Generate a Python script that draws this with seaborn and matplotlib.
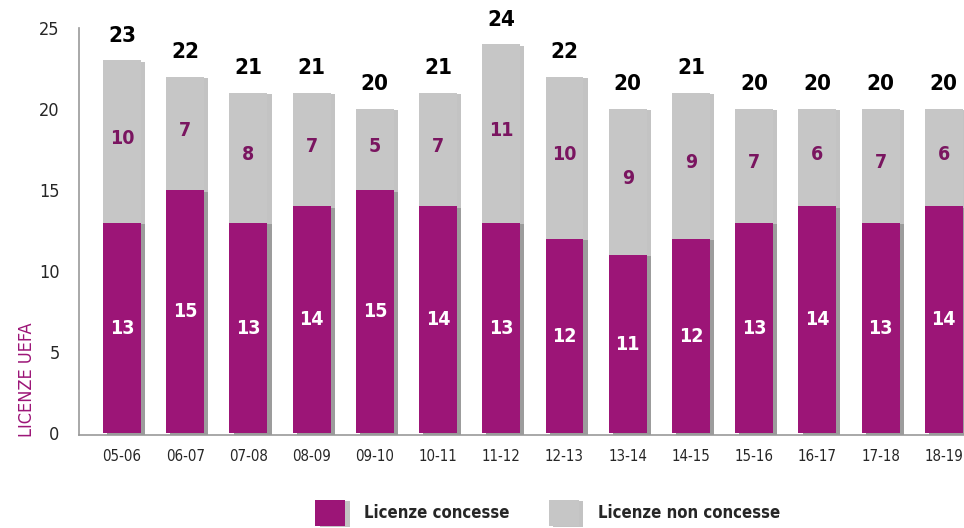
import numpy as np
import pandas as pd
import matplotlib
matplotlib.use('Agg')
import seaborn as sns
import matplotlib.pyplot as plt
import matplotlib.patheffects as pe
from matplotlib import font_manager

stagioni = ["05-06", "06-07", "07-08", "08-09", "09-10", "10-11", "11-12",
            "12-13", "13-14", "14-15", "15-16", "16-17", "17-18", "18-19"]
concesse = [13, 15, 13, 14, 15, 14, 13, 12, 11, 12, 13, 14, 13, 14]
non_concesse = [10, 7, 8, 7, 5, 7, 11, 10, 9, 9, 7, 6, 7, 6]

df = pd.DataFrame({"stagione": stagioni, "concesse": concesse,
                   "non": non_concesse})
df["totale"] = df["concesse"] + df["non"]

PURPLE = "#9C1577"
GRAY = "#C6C6C6"
DARKP = "#7A1560"

sns.set_style("white")
names = {f.name for f in font_manager.fontManager.ttflist}
cond = [n for n in ["Liberation Sans Narrow", "DejaVu Sans Condensed"] if n in names]
plt.rcParams['font.family'] = cond + ['DejaVu Sans']
plt.rcParams['font.stretch'] = 'condensed'

fig = plt.figure(figsize=(9.64, 5.28), dpi=100)
ax = fig.add_axes([0.082, 0.176, 0.918, 0.771])

shadow = [pe.SimplePatchShadow(offset=(3, -1), alpha=0.35, shadow_rgbFace="#555555"), pe.Normal()]

sns.barplot(x="stagione", y="totale", data=df, color=GRAY, saturation=1,
            width=0.6, errorbar=None, ax=ax, label="Licenze non concesse")
sns.barplot(x="stagione", y="concesse", data=df, color=PURPLE, saturation=1,
            width=0.6, errorbar=None, ax=ax, label="Licenze concesse")
for p in ax.patches:
    p.set_path_effects(shadow)
    p.set_linewidth(0)

for i, row in df.iterrows():
    ax.text(i, row["concesse"] / 2, str(row["concesse"]), ha="center", va="center",
            color="white", fontsize=14, fontweight="bold")
    ax.text(i, row["concesse"] + row["non"] / 2 + 0.2, str(row["non"]), ha="center",
            va="center", color=DARKP, fontsize=14, fontweight="bold")
    ax.text(i, row["totale"] + 0.9, str(row["totale"]), ha="center", va="bottom",
            color="black", fontsize=16, fontweight="bold", clip_on=False)

ax.set_xlim(-0.68, 13.32)
ax.set_ylim(-0.1, 25)
ax.set_yticks([0, 5, 10, 15, 20, 25])
ax.set_xlabel("")
ax.set_ylabel("")
ax.tick_params(axis="y", length=10, width=1, color="#999999", labelsize=13, pad=4)
ax.tick_params(axis="x", length=0, labelsize=10.8, pad=10)
for s in ["top", "right"]:
    ax.spines[s].set_visible(False)
for s in ["left", "bottom"]:
    ax.spines[s].set_color("#999999")
    ax.spines[s].set_linewidth(1.2)

fig.text(0.019, 0.172, "LICENZE UEFA", rotation=90, color=PURPLE, fontsize=13,
         ha="left", va="bottom")

handles, labels = ax.get_legend_handles_labels()
if ax.get_legend() is not None:
    ax.get_legend().remove()
order = [labels.index("Licenze concesse"), labels.index("Licenze non concesse")]
leg = fig.legend([handles[k] for k in order], [labels[k] for k in order],
                 loc="lower center", bbox_to_anchor=(0.568, -0.024), ncol=2,
                 frameon=False, handlelength=1.8, handleheight=2.0,
                 columnspacing=2.4, handletextpad=1.1,
                 prop={"size": 12, "weight": "bold"})

fig.savefig("out.png", dpi=100)
